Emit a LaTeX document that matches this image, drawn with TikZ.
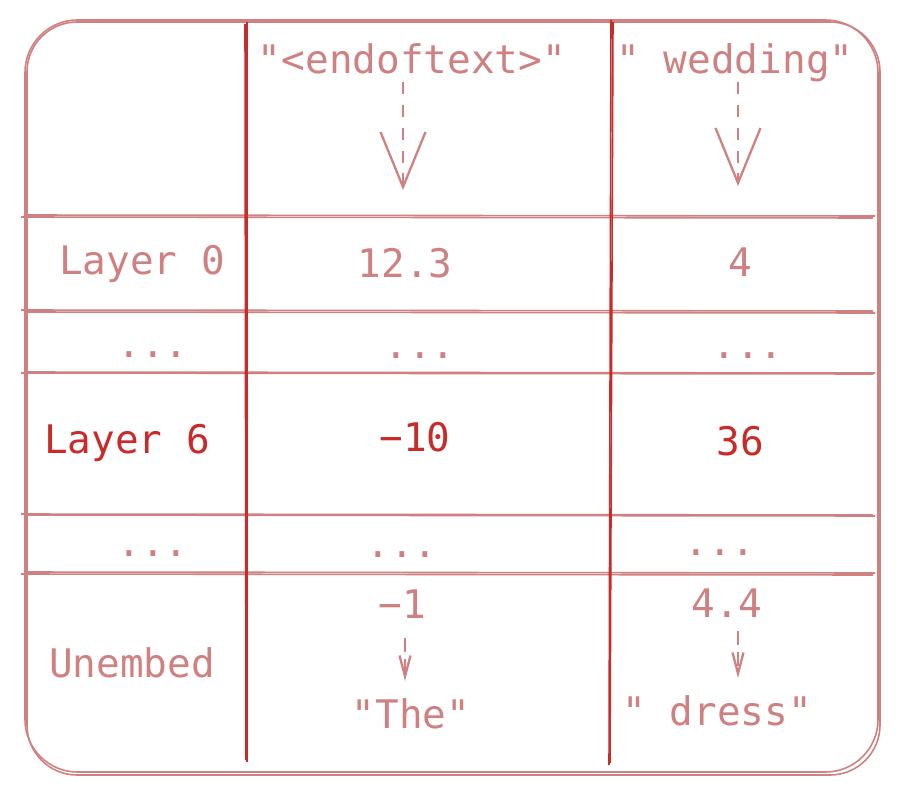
\documentclass[tikz,border=0pt]{standalone}
\usepackage{fontspec}
\setmonofont{DejaVu Sans Mono}
\usetikzlibrary{arrows.meta}

\definecolor{softred}{RGB}{207,128,128}
\definecolor{deepred}{RGB}{201,42,42}

\tikzset{
    cell/.style={font=\ttfamily\fontsize{22.4}{27}\selectfont, text=softred, inner sep=0pt, anchor=base},
    hot/.style={cell, text=deepred},
    gridline/.style={softred, line width=0.9pt},
    colline/.style={deepred, line width=0.9pt},
    bigflow/.style={softred, line width=1.1pt, dash pattern=on 7pt off 6pt,
        -{Straight Barb[length=1.1cm, width=0.9cm, line width=1.3pt]}},
    smallflow/.style={softred, line width=1.1pt, dash pattern=on 8pt off 4pt,
        -{Straight Barb[length=0.42cm, width=0.22cm, line width=1.3pt]}}
}

\begin{document}
\begin{tikzpicture}[x=0.02cm, y=-0.02cm]
    \useasboundingbox (0,0) rectangle (902,794);

    % Outer box, sketched twice
    \draw[gridline, rounded corners=1cm] (27,22) rectangle (880,775);
    \draw[gridline, rounded corners=1.05cm] (25,20) rectangle (878,772);

    % Row separators
    \foreach \y/\d in {215/2, 312/-2, 372/1, 515/-1, 572/2} {
        \draw[gridline] (24,\y) -- (875,\y+1);
        \draw[gridline] (21,\y+\d) -- (873,\y+\d+1);
    }

    % Column separators
    \draw[colline] (247,22) -- (247,762);
    \draw[colline] (245,24) -- (246,760);
    \draw[colline] (611,20) -- (609,765);
    \draw[colline] (613,22) -- (610,763);

    % Input tokens
    \node[cell] (tokA) at (412,73) {"<endoftext>"};
    \node[cell] (tokB) at (735,73) {" wedding"};
    \coordinate (tokAend) at (403,190);
    \coordinate (tokBend) at (738,186);
    \draw[bigflow] (403,82) -- (tokAend);
    \draw[bigflow] (738,82) -- (tokBend);

    % Layer 0
    \node[cell] (lay0) at (142,274) {Layer 0};
    \node[cell] (lay0A) at (405,277) {12.3};
    \node[cell] (lay0B) at (740,276) {4};

    % Skipped layers
    \node[cell] (skipA) at (153,357) {...};
    \node[cell] (skipAA) at (420,358) {...};
    \node[cell] (skipAB) at (748,358) {...};

    % Layer 6
    \node[hot] (lay6) at (127,453) {Layer 6};
    \node[hot] (lay6A) at (415,451) {−10};
    \node[hot] (lay6B) at (740,455) {36};

    % Skipped layers
    \node[cell] (skipB) at (153,556) {...};
    \node[cell] (skipBA) at (402,557) {...};
    \node[cell] (skipBB) at (720,555) {...};

    % Unembedding
    \node[cell] (unemb) at (132,677) {Unembed};
    \node[cell] (outA) at (402,618) {−1};
    \node[cell] (outB) at (727,617) {4.4};
    \node[cell] (predA) at (411,728) {"The"};
    \node[cell] (predB) at (717,725) {" dress"};
    \draw[smallflow] (405,638) -- (405,681);
    \draw[smallflow] (738,631) -- (738,678);
\end{tikzpicture}
\end{document}
